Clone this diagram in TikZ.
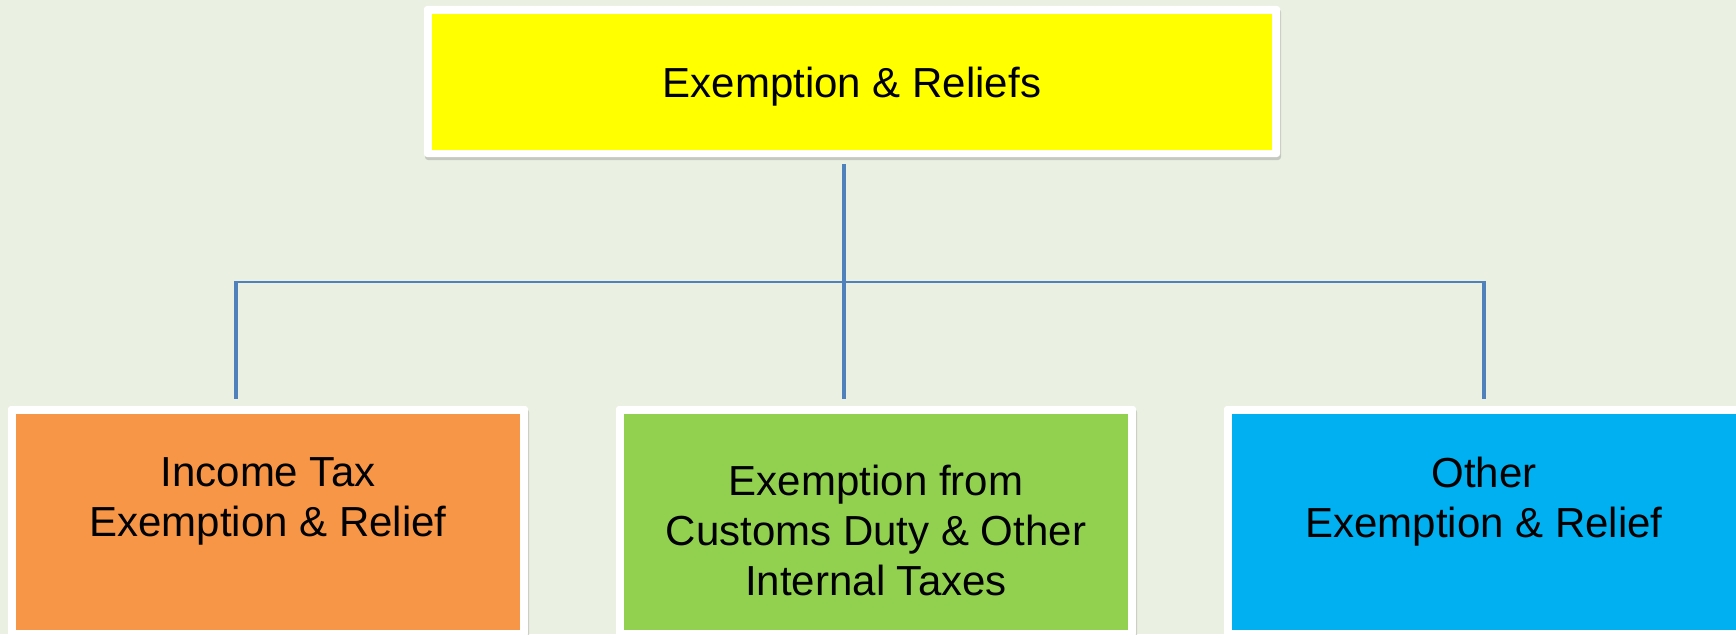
\documentclass[tikz,border=0pt]{standalone}
\usepackage{fontspec}
\setmainfont{Liberation Sans}
\usetikzlibrary{shadows,calc}
\definecolor{bgcol}{HTML}{EAF0E2}
\definecolor{linecol}{HTML}{4F81BD}
\definecolor{boxyellow}{HTML}{FFFF00}
\definecolor{boxorange}{HTML}{F79646}
\definecolor{boxgreen}{HTML}{92D050}
\definecolor{boxblue}{HTML}{00B0F0}
\begin{document}
\begin{tikzpicture}[x=1pt,y=-1pt,
  box/.style={rectangle, fill=white, rounded corners=3pt, inner sep=0pt,
    minimum width=520pt, minimum height=231pt,
    drop shadow={shadow xshift=1pt, shadow yshift=-3pt, opacity=0.35},
    path picture={\fill[#1, sharp corners] ([shift={(8pt,-8pt)}]path picture bounding box.north west)
      rectangle ([shift={(-8pt,7pt)}]path picture bounding box.south east);}},
  lbl/.style={inner sep=0pt, align=center, font=\fontsize{42}{50}\selectfont, text=black},
  stem/.style={draw=linecol, line width=4.5pt},
  bar/.style={draw=linecol, line width=2pt}]
\useasboundingbox (0,0) rectangle (1736,634);
\clip (0,0) rectangle (1736,634);
\fill[bgcol] (0,0) rectangle (1736,634);
% boxes
\node[box=boxyellow, minimum width=856pt, minimum height=151pt] (top) at (852,81.5) {};
\node[box=boxorange] (b1) at (268,521.5) {};
\node[box=boxgreen]  (b2) at (876,521.5) {};
\node[box=boxblue]   (b3) at (1484,521.5) {};
% labels
\node[lbl, anchor=base] (t0) at (852,97.3) {Exemption \& Reliefs};
\node[lbl] (t1) at (268,501.5) {Income Tax\\Exemption \& Relief};
\node[lbl] (t2) at (876,530) {Exemption from\\Customs Duty \& Other\\Internal Taxes};
\node[lbl] (t3) at (1484,501.5) {Other\\Exemption \& Relief};
% connectors
\coordinate (j1) at (236,282);
\coordinate (hub) at (844,282);
\coordinate (j3) at (1484,282);
\draw[bar] (j1) -- (j3);
\draw[stem] ([yshift=-7pt]top.south -| hub) -- ([yshift=7pt]b2.north -| hub);
\draw[stem] ([yshift=1pt]j1) -- ([yshift=7pt]b1.north -| j1);
\draw[stem] ([yshift=1pt]j3) -- ([yshift=7pt]b3.north);
\end{tikzpicture}
\end{document}
